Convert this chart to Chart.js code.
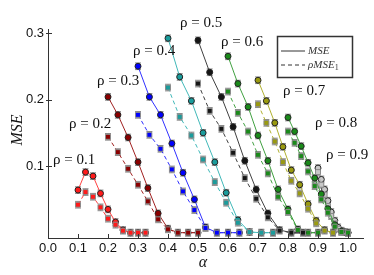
<!DOCTYPE html>
<html>
<head>
<meta charset="utf-8">
<script src="https://cdn.jsdelivr.net/npm/chart.js@4.4.0/dist/chart.umd.min.js"></script>
<style>
  html, body { margin: 0; padding: 0; background: #fff; }
  #wrap { width: 374px; height: 275px; }
</style>
</head>
<body>
<div id="wrap"><canvas id="myChart" width="374" height="275"></canvas></div>
<script>
// valeurs : alpha, MSE (trait plein) et rho*MSE1 (tirets)
const alpha01 = [0.1, 0.125, 0.15, 0.175, 0.2, 0.225, 0.25, 0.275, 0.3, 0.325];
const mse01 = [0.064, 0.091, 0.085, 0.059, 0.035, 0.016, 0.004, 0, 0, 0];
const rmse01 = [0.042, 0.061, 0.054, 0.038, 0.021, 0.012, 0.003, 0, 0, 0];

const alpha02 = [0.2, 0.233, 0.267, 0.3, 0.333, 0.367, 0.4, 0.433, 0.467, 0.5];
const mse02 = [0.204, 0.177, 0.143, 0.106, 0.067, 0.029, 0.006, 0, 0, 0];
const rmse02 = [0.144, 0.121, 0.096, 0.072, 0.047, 0.020, 0.005, 0, 0, 0];

const alpha03 = [0.3, 0.338, 0.375, 0.413, 0.45, 0.488, 0.525, 0.563, 0.6, 0.638];
const mse03 = [0.250, 0.204, 0.177, 0.134, 0.090, 0.050, 0.008, 0, 0, 0];
const rmse03 = [0.177, 0.147, 0.126, 0.095, 0.062, 0.034, 0.007, 0, 0, 0];

const alpha04 = [0.4, 0.439, 0.478, 0.517, 0.556, 0.594, 0.633, 0.672, 0.711, 0.75];
const mse04 = [0.292, 0.234, 0.198, 0.150, 0.106, 0.060, 0.019, 0.001, 0, 0];
const rmse04 = [0.218, 0.174, 0.146, 0.110, 0.076, 0.045, 0.015, 0.001, 0, 0];

const alpha05 = [0.5, 0.539, 0.578, 0.617, 0.656, 0.694, 0.733, 0.772, 0.811, 0.85];
const mse05 = [0.289, 0.241, 0.204, 0.159, 0.108, 0.065, 0.029, 0.004, 0, 0];
const rmse05 = [0.224, 0.183, 0.156, 0.120, 0.082, 0.051, 0.023, 0.003, 0, 0];

const alpha06 = [0.6, 0.633, 0.667, 0.7, 0.733, 0.767, 0.8, 0.833, 0.867, 0.9];
const mse06 = [0.265, 0.224, 0.189, 0.146, 0.108, 0.065, 0.035, 0.005, 0, 0];
const rmse06 = [0.212, 0.180, 0.152, 0.117, 0.089, 0.054, 0.031, 0.004, 0, 0];

const alpha07 = [0.7, 0.728, 0.756, 0.783, 0.811, 0.839, 0.867, 0.894, 0.922, 0.95];
const mse07 = [0.229, 0.198, 0.165, 0.129, 0.094, 0.072, 0.043, 0.018, 0.004, 0];
const rmse07 = [0.193, 0.165, 0.137, 0.106, 0.078, 0.059, 0.036, 0.014, 0.003, 0];

const alpha08 = [0.8, 0.822, 0.844, 0.867, 0.889, 0.911, 0.933, 0.956, 0.978, 1.0];
const mse08 = [0.173, 0.152, 0.130, 0.105, 0.082, 0.058, 0.036, 0.012, 0.002, 0];
const rmse08 = [0.152, 0.135, 0.115, 0.092, 0.070, 0.050, 0.030, 0.009, 0.001, 0];

const alpha09 = [0.9, 0.911, 0.922, 0.933, 0.944, 0.956, 0.967, 0.978, 0.989, 1.0];
const mse09 = [0.097, 0.080, 0.065, 0.048, 0.031, 0.018, 0.008, 0.003, 0.001, 0];
const rmse09 = [0.091, 0.072, 0.057, 0.040, 0.025, 0.014, 0.006, 0.002, 0.001, 0];

const rhoLabels = ["ρ = 0.1", "ρ = 0.2", "ρ = 0.3", "ρ = 0.4", "ρ = 0.5", "ρ = 0.6", "ρ = 0.7", "ρ = 0.8", "ρ = 0.9"];
const xTicks = [0.0, 0.1, 0.2, 0.3, 0.4, 0.5, 0.6, 0.7, 0.8, 0.9, 1.0];
const yTicks = [0.1, 0.2, 0.3];
const errBar = 0.005; // demi-hauteur des barres d'erreur

// couleurs par rho
const colors = ["#ff1a1a", "#8b0000", "#0000ff", "#1a9c9c", "#151515", "#1a8a1a", "#9a9a10", "#1a8a1a", "#c8c8c8"];
const lineColors = ["#ff4040", "#a02020", "#3030ff", "#40b8b8", "#404040", "#40a040", "#b0b030", "#40a040", "#b0b0b0"];

// position des étiquettes rho (pixels, bord gauche / milieu)
const labelPos = [[53, 160], [69, 124], [97, 81], [133, 51], [180, 23], [221, 42], [283, 91], [315, 123], [326, 155]];

function serie(xs, ys, i, dashed) {
  return {
    data: xs.map((x, k) => ({ x: x, y: ys[k] })),
    borderColor: lineColors[i],
    backgroundColor: colors[i],
    borderWidth: 1,
    borderDash: dashed ? [4, 3] : [],
    pointStyle: dashed ? 'rect' : 'circle',
    pointRadius: dashed ? 3.5 : 3,
    pointBorderColor: dashed ? '#8a8a8a' : '#222',
    pointBorderWidth: 1,
    pointBackgroundColor: colors[i],
    tension: 0,
    fill: false
  };
}

const allAlpha = [alpha01, alpha02, alpha03, alpha04, alpha05, alpha06, alpha07, alpha08, alpha09];
const allMse = [mse01, mse02, mse03, mse04, mse05, mse06, mse07, mse08, mse09];
const allRmse = [rmse01, rmse02, rmse03, rmse04, rmse05, rmse06, rmse07, rmse08, rmse09];

var datasets = [];
for (i = 0; i < allAlpha.length; i++) {
  datasets.push(serie(allAlpha[i], allRmse[i], i, true));
  datasets.push(serie(allAlpha[i], allMse[i], i, false));
}

// barres d'erreur grises, sous les marqueurs
const errorBars = {
  id: 'errorBars',
  beforeDatasetsDraw(chart) {
    const c = chart.ctx;
    const ys = chart.scales.y;
    c.save();
    c.strokeStyle = '#8c8c8c';
    c.lineWidth = 1;
    chart.data.datasets.forEach((ds, d) => {
      const meta = chart.getDatasetMeta(d);
      meta.data.forEach((pt, k) => {
        const v = ds.data[k].y;
        const top = ys.getPixelForValue(v + errBar);
        const bot = ys.getPixelForValue(v - errBar);
        c.beginPath();
        c.moveTo(pt.x, top); c.lineTo(pt.x, bot);
        c.moveTo(pt.x - 3, top); c.lineTo(pt.x + 3, top);
        c.moveTo(pt.x - 3, bot); c.lineTo(pt.x + 3, bot);
        c.stroke();
      });
    });
    c.restore();
  }
};

// graduations vers l'intérieur, étiquettes rho, légende et titres des axes
const decor = {
  id: 'decor',
  afterDraw(chart) {
    const c = chart.ctx;
    const xs = chart.scales.x, ys = chart.scales.y;
    const area = chart.chartArea;
    c.save();
    c.strokeStyle = '#333';
    c.lineWidth = 1;
    c.beginPath();
    xTicks.forEach(t => {
      const px = Math.round(xs.getPixelForValue(t)) + 0.5;
      c.moveTo(px, area.bottom); c.lineTo(px, area.bottom - 4);
    });
    yTicks.forEach(t => {
      const py = Math.round(ys.getPixelForValue(t)) + 0.5;
      c.moveTo(area.left - 2, py); c.lineTo(area.left + 4, py);
    });
    c.stroke();

    c.fillStyle = '#111';
    c.font = '15px "Liberation Serif", "DejaVu Serif", serif';
    c.textBaseline = 'middle';
    c.textAlign = 'left';
    rhoLabels.forEach((t, k) => c.fillText(t, labelPos[k][0], labelPos[k][1]));

    // légende
    c.lineWidth = 1.5;
    c.strokeStyle = '#333';
    c.strokeRect(277.5, 36.5, 75, 41);
    c.lineWidth = 1;
    c.beginPath();
    c.moveTo(281, 51); c.lineTo(305, 51);
    c.stroke();
    c.setLineDash([4, 3]);
    c.beginPath();
    c.moveTo(281, 65); c.lineTo(305, 65);
    c.stroke();
    c.setLineDash([]);
    c.fillStyle = '#333';
    c.font = 'italic 11px "Liberation Serif", "DejaVu Serif", serif';
    c.fillText('MSE', 308, 51);
    c.fillText('ρMSE', 308, 65);
    const w = c.measureText('ρMSE').width;
    c.font = '8px "Liberation Serif", "DejaVu Serif", serif';
    c.fillText('1', 308 + w, 68);

    // titres des axes
    c.fillStyle = '#111';
    c.font = 'italic 16px "Liberation Serif", "DejaVu Serif", serif';
    c.textAlign = 'center';
    c.fillText('α', 203, 263);
    c.translate(18, 130);
    c.rotate(-Math.PI / 2);
    c.fillText('MSE', 0, 0);
    c.restore();
  }
};

const ctx = document.getElementById('myChart');
const myChart = new Chart(ctx, {
  type: 'line',
  data: { datasets: datasets },
  options: {
    responsive: false,
    animation: false,
    devicePixelRatio: 1,
    layout: { padding: { left: 0, right: 11, top: 29, bottom: 0 } },
    plugins: { legend: { display: false }, tooltip: { enabled: false } },
    scales: {
      x: {
        type: 'linear',
        min: 0,
        max: 1.05,
        afterBuildTicks: s => { s.ticks = xTicks.map(v => ({ value: v })); },
        afterFit: s => { s.height = 37; },
        grid: { display: false, drawTicks: false, tickLength: 0 },
        border: { display: true, color: '#333', width: 1 },
        ticks: {
          padding: 3,
          color: '#111',
          font: { family: '"Liberation Sans", Arial, sans-serif', size: 13 },
          callback: v => v.toFixed(1)
        }
      },
      y: {
        type: 'linear',
        min: -0.008,
        max: 0.306,
        afterBuildTicks: s => { s.ticks = yTicks.map(v => ({ value: v })); },
        afterFit: s => { s.width = 48; },
        grid: { display: false, drawTicks: false, tickLength: 0 },
        border: { display: true, color: '#333', width: 1 },
        ticks: {
          padding: 4,
          color: '#111',
          font: { family: '"Liberation Sans", Arial, sans-serif', size: 13 },
          callback: v => v.toFixed(1)
        }
      }
    }
  },
  plugins: [errorBars, decor]
});
</script>
</body>
</html>
